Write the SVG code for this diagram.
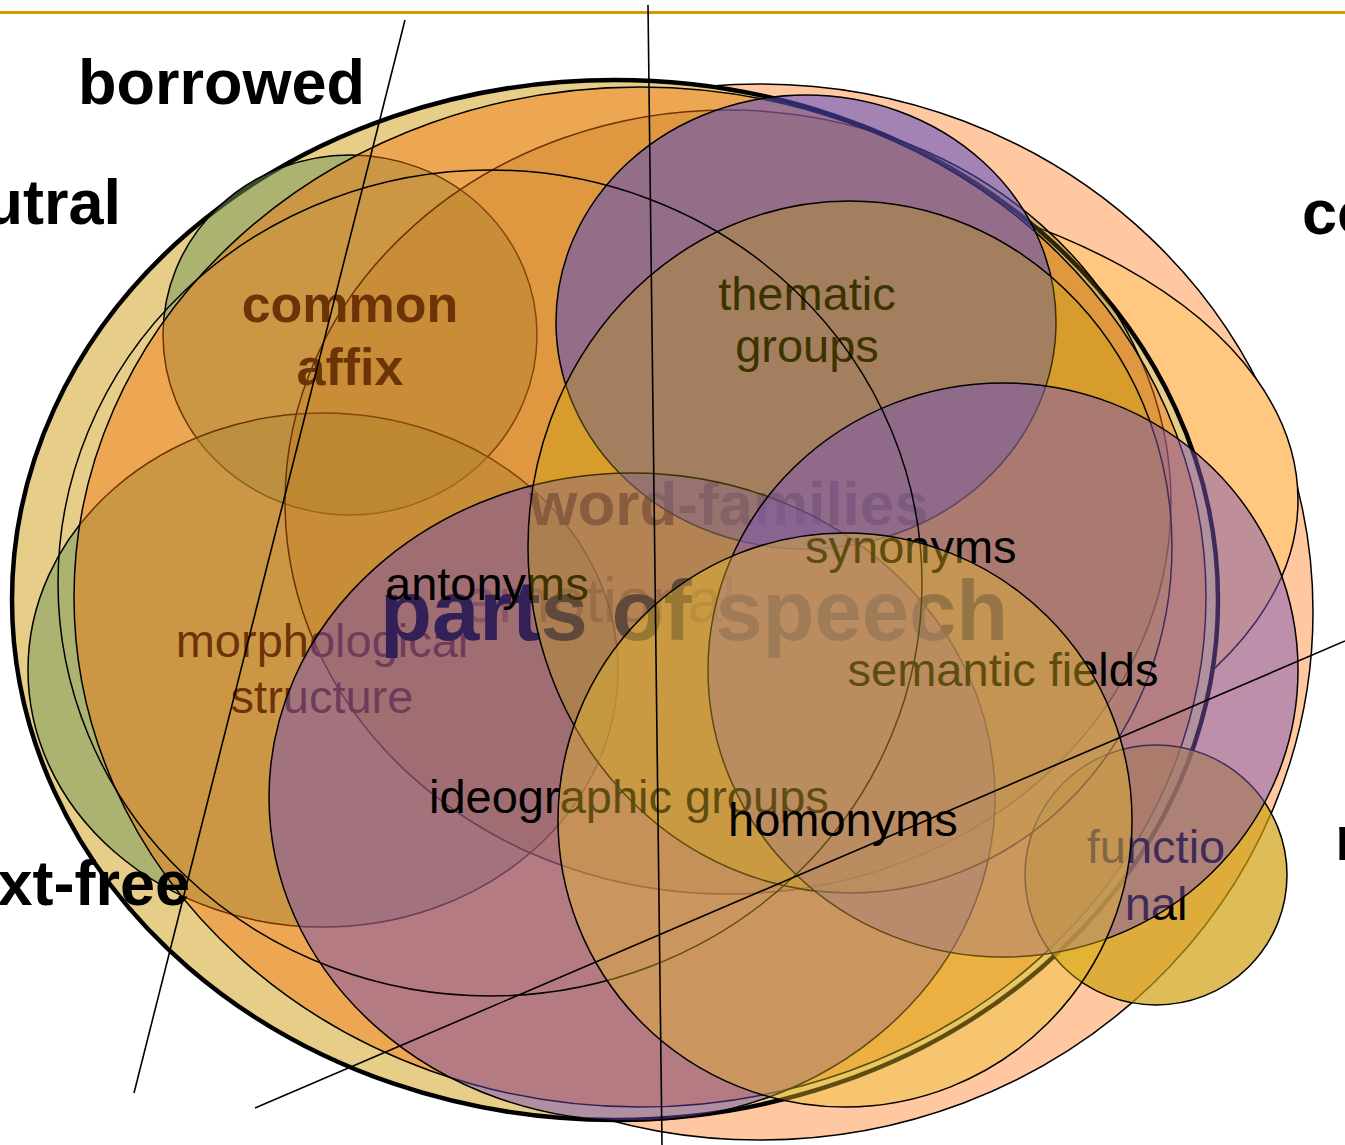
<svg xmlns="http://www.w3.org/2000/svg" width="1345" height="1145" viewBox="0 0 1345 1145">
<style>
 .e { stroke:#000; stroke-width:1.5; }
 .t { font-family:"Liberation Sans", Arial, sans-serif; fill:#000; }
 .b { font-weight:bold; }
 .r { font-size:47px; }
 .big { font-size:63px; font-weight:bold; }
 .ln { stroke:#000; stroke-width:1.6; fill:none; }
</style>
<rect width="1345" height="1145" fill="#fff"/>
<line x1="0" y1="12.5" x2="1345" y2="12.5" stroke="#cc9c00" stroke-width="3"/>
<g id="peach"><ellipse class="e" cx="760" cy="612" rx="553" ry="528" fill="#ffc8a0"/></g>
<g id="light-orange"><ellipse class="e" cx="700" cy="500" rx="598" ry="330" fill="#ffc77f"/></g>
<g id="tan"><ellipse cx="615" cy="600" rx="603" ry="520" fill="#e6cd88" stroke="#000" stroke-width="4.5"/></g>
<g id="common-affix"><ellipse class="e" cx="350" cy="335" rx="187" ry="180" fill="#729958" fill-opacity="0.5"/></g>
<g id="morphological-structure"><ellipse class="e" cx="323" cy="670" rx="295" ry="257" fill="#729958" fill-opacity="0.5"/></g>
<g id="word-families"><ellipse class="e" cx="728" cy="502" rx="443" ry="392" fill="#96781e" fill-opacity="0.3"/></g>
<g id="labels-under">
 <text class="t b" x="350" y="322" font-size="52" text-anchor="middle">common</text>
 <text class="t b" x="350" y="385" font-size="52" text-anchor="middle">affix</text>
 <text class="t r" x="322" y="657" text-anchor="middle">morphological</text>
 <text class="t r" x="322" y="713" text-anchor="middle">structure</text>
 <text class="t b" x="729" y="525" font-size="62" text-anchor="middle">word-families</text>
 <text class="t" x="463" y="622" font-size="63" fill-opacity="0.5">emotional</text>
</g>
<g id="orange"><ellipse class="e" cx="640" cy="597" rx="566" ry="510" fill="#f6740d" fill-opacity="0.44"/></g>
<g id="thematic-groups"><ellipse class="e" cx="806" cy="322" rx="250" ry="227" fill="#554bc3" fill-opacity="0.55"/></g>
<g id="functional"><ellipse class="e" cx="1156" cy="875" rx="131" ry="130" fill="#d09f10" fill-opacity="0.7"/></g>
<text class="t b" x="380" y="640" font-size="85">parts of speech</text>
<g id="mauve"><ellipse class="e" cx="632" cy="797" rx="363" ry="324" fill="#6e46be" fill-opacity="0.45"/></g>
<g id="labels-mid">
 <text class="t r" x="385" y="600">antonyms</text>
 <text class="t r" x="807" y="310" text-anchor="middle">thematic</text>
 <text class="t r" x="807" y="362" text-anchor="middle">groups</text>
 <text class="t r" x="1156" y="863" text-anchor="middle">functio</text>
 <text class="t r" x="1156" y="920" text-anchor="middle">nal</text>
</g>
<g id="outline-2"><ellipse class="e" cx="850" cy="547" rx="322" ry="346" fill="#c8aa00" fill-opacity="0.3"/></g>
<g id="semantic-fields"><ellipse class="e" cx="1003" cy="670" rx="295" ry="287" fill="#7d55b4" fill-opacity="0.5"/></g>
<g id="outline-1"><ellipse class="e" cx="490" cy="583" rx="432" ry="413" fill="none"/></g>
<g id="labels-upper">
 <text class="t r" x="1003" y="686" text-anchor="middle">semantic fields</text>
 <text class="t r" x="429" y="813">ideographic groups</text>
 <text class="t r" x="805" y="563">synonyms</text>
</g>
<g id="homonyms"><ellipse class="e" cx="845" cy="820" rx="287" ry="287" fill="#ebbe28" fill-opacity="0.4"/></g>
<text class="t r" x="728" y="836">homonyms</text>
<g id="connectors">
 <line class="ln" x1="405" y1="20" x2="134" y2="1093"/>
 <line class="ln" x1="648" y1="5" x2="662" y2="1145"/>
 <line class="ln" x1="255" y1="1108" x2="1345" y2="641"/>
</g>
<g id="outer-labels">
 <text class="t big" x="78" y="104">borrowed</text>
 <text class="t big" x="121" y="224" text-anchor="end">neutral</text>
 <text class="t big" x="190" y="905" text-anchor="end">context-free</text>
 <text class="t big" x="1302" y="234">colloquial</text>
 <text class="t big" x="1335" y="860">native</text>
</g>
</svg>
